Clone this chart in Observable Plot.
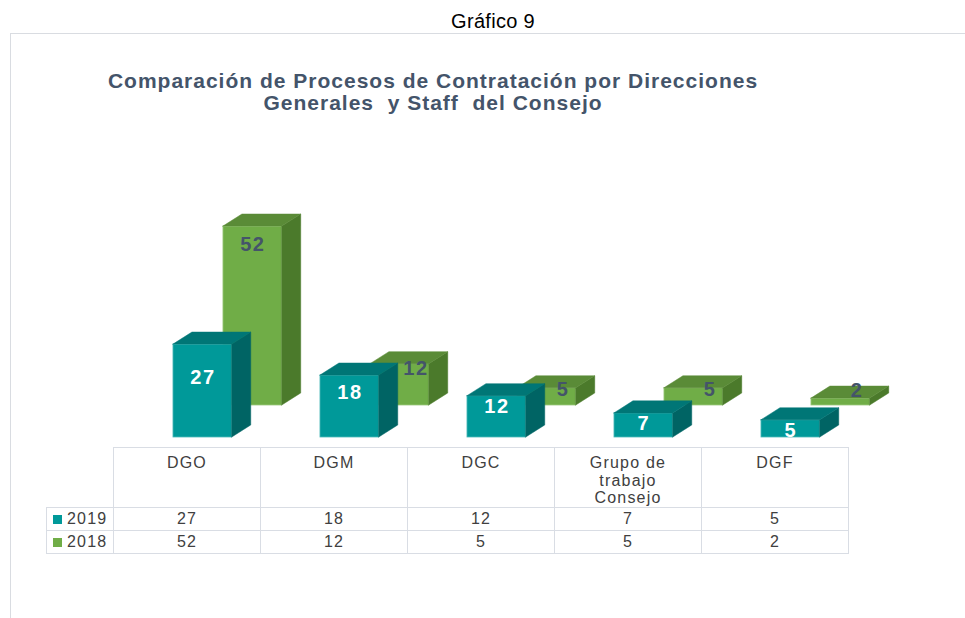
<!DOCTYPE html>
<html>
<head>
<meta charset="utf-8">
<script src="https://cdn.jsdelivr.net/npm/d3@7"></script>
<script src="https://cdn.jsdelivr.net/npm/@observablehq/plot@0.6"></script>
<style>
  body { margin: 0; background: #fff; }
  #wrap { position: relative; width: 965px; height: 618px; overflow: hidden; background: #fff; font-family: "Liberation Sans", Arial, sans-serif; }
  #supt { position: absolute; top: 10px; left: 493px; transform: translateX(-50%); font-size: 20px; color: #000; white-space: nowrap; letter-spacing: 0.3px; }
  #frame { position: absolute; left: 10px; top: 33px; width: 980px; height: 600px; border-top: 1px solid #d9dce1; border-left: 1px solid #d9dce1; }
  #title { position: absolute; top: 70px; left: 433px; transform: translateX(-50%); font-size: 21px; line-height: 22px; font-weight: bold; color: #44546a; text-align: center; white-space: pre; letter-spacing: 1px; }
  #chart { position: absolute; left: 0; top: 0; }
  #chart svg g[aria-label="text"] text { letter-spacing: 1.6px; }
  #tbl { position: absolute; left: 46px; top: 447px; border-collapse: collapse; font-size: 16px; color: #404040; letter-spacing: 1.2px; }
  #tbl td { border: 1px solid #d9dde4; text-align: center; padding: 0; }
  #tbl tr.hdr td { height: 60px; vertical-align: top; padding-top: 6px; line-height: 17.5px; box-sizing: border-box; }
  #tbl tr.row td { height: 22px; line-height: 20px; }
  #tbl td.corner { border-top: none; border-left: none; }
  #tbl td.ser { text-align: left; padding-left: 6px; width: 60px; }
  #tbl td.cat { width: 147px; }
  .sw { display: inline-block; width: 9px; height: 9px; margin-right: 5px; vertical-align: 0px; }
  .catlbl { display: inline-block; width: 92px; }
</style>
</head>
<body>
<div id="wrap">
  <div id="frame"></div>
  <div id="supt">Gráfico 9</div>
  <div id="title"></div>
  <div id="chart"></div>
  <table id="tbl"></table>
</div>
<script>
// ---- data ----
const categories = ["DGO", "DGM", "DGC", "Grupo de trabajo Consejo", "DGF"];
const seriesNames = ["2019", "2018"];
const values2019 = [27, 18, 12, 7, 5];
const values2018 = [52, 12, 5, 5, 2];
const titleLines = ["Comparación de Procesos de Contratación por Direcciones", "Generales  y Staff  del Consejo"];
const superTitle = "Gráfico 9";

// ---- styles / geometry ----
const colors = {
  "2019": {front: "#009999", side: "#006464", top: "#007676", edge: "#4db8b8", label: "#ffffff"},
  "2018": {front: "#70ad47", side: "#4b7a2b", top: "#5a8b37", edge: "#9bc97d", label: "#44546a"}
};
const barW = 0.40, frontOff = 0.408, backDX = 0.34, backDY = 9.3, depthX = 0.129, depthY = 3.5;

document.getElementById("supt").textContent = superTitle;
document.getElementById("title").textContent = titleLines.join("\n");

// build bar geometry (back series first so front series overlays)
const fronts = [], sides = [], tops = [], labels = [];
const seriesData = [["2018", values2018, true], ["2019", values2019, false]];
for (const [s, vals, back] of seriesData) {
  vals.forEach((v, i) => {
    const L = i + frontOff + (back ? backDX : 0);
    const R = L + barW;
    const b = back ? backDY : 0;
    const t = b + v;
    const key = s + "-" + categories[i];
    fronts.push({s, key, x1: L, x2: R, y1: b, y2: t});
    // side face (parallelogram with vertical edges)
    sides.push({s, key, x: R, y1: b, y2: t});
    sides.push({s, key, x: R + depthX, y1: b + depthY, y2: t + depthY});
    // top face (parallelogram with horizontal edges) as a 4-point area
    tops.push({s, key, x: L, y1: t, y2: t});
    tops.push({s, key, x: L + depthX, y1: t, y2: t + depthY});
    tops.push({s, key, x: R, y1: t, y2: t + depthY});
    tops.push({s, key, x: R + depthX, y1: t + depthY, y2: t + depthY});
    const ly = back ? b + Math.max(v * 0.9, 4.2) : Math.min(v - 3, v / 2 + 4);
    const lx = (L + R) / 2 + (back && v < 20 ? 0.11 : 0);
    labels.push({s, v, x: lx, y: ly});
  });
}

const marks = [];
for (const s of ["2018", "2019"]) {
  const c = colors[s];
  marks.push(Plot.rect(fronts.filter(d => d.s === s), {x1: "x1", x2: "x2", y1: "y1", y2: "y2", fill: c.front, stroke: c.edge, strokeWidth: 0.8}));
  marks.push(Plot.area(sides.filter(d => d.s === s), {x1: "x", y1: "y1", y2: "y2", z: "key", fill: c.side, stroke: c.side, strokeWidth: 0.5}));
  marks.push(Plot.area(tops.filter(d => d.s === s), {x1: "x", y1: "y1", y2: "y2", z: "key", fill: c.top, stroke: c.top, strokeWidth: 0.5}));
  marks.push(Plot.text(labels.filter(d => d.s === s), {x: "x", y: "y", text: d => String(d.v), fill: c.label, fontWeight: "bold", fontSize: 20, fontFamily: "Liberation Sans, Arial, sans-serif"}));
}

const chart = Plot.plot({
  width: 965,
  height: 445,
  marginLeft: 113,
  marginRight: 117,
  marginTop: 0,
  marginBottom: 8,
  x: {type: "linear", domain: [0, 5], axis: null},
  y: {type: "linear", domain: [0, 127], axis: null},
  style: {background: "transparent", overflow: "visible"},
  marks
});
document.getElementById("chart").appendChild(chart);

// ---- data table (legend) ----
const tbl = d3.select("#tbl");
const hdr = tbl.append("tr").attr("class", "hdr");
hdr.append("td").attr("class", "corner");
hdr.selectAll("td.cat").data(categories).join("td").attr("class", "cat")
  .append("span").attr("class", "catlbl").text(d => d);
const rows = [["2019", values2019], ["2018", values2018]];
for (const [s, vals] of rows) {
  const tr = tbl.append("tr").attr("class", "row");
  const th = tr.append("td").attr("class", "ser");
  th.append("span").attr("class", "sw").style("background", colors[s].front);
  th.append("span").text(s);
  vals.forEach(v => tr.append("td").text(v));
}
</script>
</body>
</html>
